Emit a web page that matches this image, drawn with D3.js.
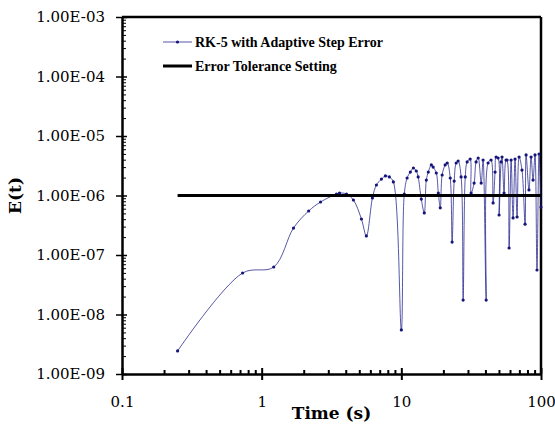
<!DOCTYPE html>
<html>
<head>
<meta charset="utf-8">
<script src="https://cdn.jsdelivr.net/npm/d3@7"></script>
<style>
    body { margin: 0; background: #fff; }
    svg { display: block; }
</style>
</head>
<body>
<svg id="chart" width="555" height="424"></svg>
<script>
/**
 * Data.
 */
const timeValues = [
    0.25, 0.73, 1.22, 1.69, 2.17, 2.64, 3.43, 3.61, 4.05, 4.54,
    5.18, 5.62, 6.21, 6.63, 7.20, 7.69, 8.21, 8.77, 10.0, 10.5,
    11.0, 11.6, 12.2, 12.8, 13.2, 13.9, 14.6, 15.1, 15.6, 16.4,
    16.9, 17.8, 18.4, 19.0, 19.6, 20.6, 21.3, 22.4, 23.1, 23.9,
    24.7, 25.5, 26.8, 27.7, 28.7, 29.6, 31.1, 31.6, 33.2, 34.3,
    35.5, 37.3, 38.5, 40.5, 41.8, 43.9, 45.4, 46.9, 47.7, 49.3,
    50.1, 51.8, 52.6, 54.4, 56.2, 57.1, 59.1, 61.1, 63.1, 65.2,
    67.4, 69.7, 73.1, 76.9, 78.2, 82.0, 84.9, 87.7, 90.6, 93.6,
    96.8, 100
];
const errorValues = [
    2.44e-9, 4.98e-8, 6.28e-8, 2.84e-7, 5.49e-7, 7.78e-7, 1.06e-6, 1.10e-6, 1.06e-6, 8.4e-7,
    4.03e-7, 2.09e-7, 9.1e-7, 1.50e-6, 1.89e-6, 2.13e-6, 2.05e-6, 1.69e-6, 5.5e-9, 1.06e-6,
    1.97e-6, 2.48e-6, 2.90e-6, 2.58e-6, 2.05e-6, 8.7e-7, 5.1e-7, 1.82e-6, 2.48e-6, 3.26e-6,
    3.01e-6, 2.39e-6, 1.10e-6, 6.2e-7, 2.21e-6, 3.26e-6, 3.52e-6, 1.97e-6, 1.65e-7, 1.75e-6,
    3.52e-6, 3.80e-6, 2.05e-6, 1.75e-8, 2.05e-6, 3.66e-6, 4.10e-6, 1.10e-6, 1.62e-6, 3.66e-6,
    4.27e-6, 1.62e-6, 3.95e-6, 1.75e-8, 3.52e-6, 3.95e-6, 7.5e-7, 2.48e-6, 4.44e-6, 4.27e-6,
    4.7e-7, 3.66e-6, 4.44e-6, 1.10e-6, 3.95e-6, 3.95e-6, 1.31e-7, 3.95e-6, 4.2e-7, 4.10e-6,
    4.35e-7, 4.44e-6, 2.68e-6, 3.3e-7, 4.80e-6, 1.24e-6, 4.44e-6, 1.82e-6, 4.80e-6, 5.6e-8,
    4.98e-6, 6.4e-7
];
const toleranceTimes = [0.25, 100];
const toleranceValue = 1e-6;

const seriesNames = ['RK-5 with Adaptive Step Error', 'Error Tolerance Setting'];
const xTickValues = [0.1, 1, 10, 100];
const xTickLabels = ['0.1', '1', '10', '100'];
const yTickValues = [1e-9, 1e-8, 1e-7, 1e-6, 1e-5, 1e-4, 1e-3];
const yTickLabels = ['1.00E-09', '1.00E-08', '1.00E-07', '1.00E-06', '1.00E-05', '1.00E-04', '1.00E-03'];

/**
 * Visual configs.
 */
const plot = { left: 122, right: 541, top: 17, bottom: 374 },
    seriesColor = '#1f1f8a',
    markerColor = '#14147a',
    tickFont = '"DejaVu Serif", serif',
    titleFont = '"DejaVu Serif", serif',
    legendFont = '"Liberation Serif", "Times New Roman", serif';

const svg = d3.select('#chart');

const xScale = d3.scaleLog().domain([0.1, 100]).range([plot.left, plot.right]),
    yScale = d3.scaleLog().domain([1e-9, 1e-3]).range([plot.bottom, plot.top]);

// Minor tick positions (2..9 within each decade)
function minorTicks(domain) {
    const out = [];
    for (let e = Math.round(Math.log10(domain[0])); e < Math.round(Math.log10(domain[1])); e++) {
        for (let m = 2; m <= 9; m++) out.push(m * Math.pow(10, e));
    }
    return out;
}

/**
 * Axes.
 */
function drawAxes() {
    const g = svg.append('g').attr('class', 'axes');

    // Y minor ticks, inside
    g.append('g')
        .attr('transform', 'translate(' + plot.left + ',0)')
        .call(d3.axisRight(yScale).tickValues(minorTicks(yScale.domain())).tickFormat('').tickSize(4).tickSizeOuter(0))
        .call(s => s.select('.domain').remove())
        .call(s => s.selectAll('line').attr('stroke', '#000').attr('stroke-width', 1));

    // Y major ticks, inside part
    g.append('g')
        .attr('transform', 'translate(' + plot.left + ',0)')
        .call(d3.axisRight(yScale).tickValues(yTickValues).tickFormat('').tickSize(5).tickSizeOuter(0))
        .call(s => s.select('.domain').remove())
        .call(s => s.selectAll('line').attr('stroke', '#000').attr('stroke-width', 1.5));

    // Y major ticks with labels
    g.append('g')
        .attr('transform', 'translate(' + plot.left + ',0)')
        .call(d3.axisLeft(yScale).tickValues(yTickValues)
            .tickFormat((d, i) => yTickLabels[i]).tickSize(6).tickPadding(11).tickSizeOuter(0))
        .call(s => s.select('.domain').attr('stroke', '#000').attr('stroke-width', 2.5))
        .call(s => s.selectAll('line').attr('stroke', '#000').attr('stroke-width', 1.5))
        .call(s => s.selectAll('text')
            .attr('fill', '#000')
            .style('font-family', tickFont)
            .style('font-size', '15px'));

    // X minor ticks, inside
    g.append('g')
        .attr('transform', 'translate(0,' + plot.bottom + ')')
        .call(d3.axisTop(xScale).tickValues(minorTicks(xScale.domain())).tickFormat('').tickSize(4).tickSizeOuter(0))
        .call(s => s.select('.domain').remove())
        .call(s => s.selectAll('line').attr('stroke', '#000').attr('stroke-width', 2));

    // X major ticks, inside part
    g.append('g')
        .attr('transform', 'translate(0,' + plot.bottom + ')')
        .call(d3.axisTop(xScale).tickValues(xTickValues).tickFormat('').tickSize(6).tickSizeOuter(0))
        .call(s => s.select('.domain').remove())
        .call(s => s.selectAll('line').attr('stroke', '#000').attr('stroke-width', 2));

    // X major ticks with labels
    g.append('g')
        .attr('transform', 'translate(0,' + plot.bottom + ')')
        .call(d3.axisBottom(xScale).tickValues(xTickValues)
            .tickFormat((d, i) => xTickLabels[i]).tickSize(6).tickSizeOuter(0))
        .call(s => s.select('.domain').attr('stroke', '#000').attr('stroke-width', 2.5))
        .call(s => s.selectAll('line').attr('stroke', '#000').attr('stroke-width', 2))
        .call(s => s.selectAll('text')
            .attr('fill', '#000')
            .attr('y', 33)
            .attr('dy', 0)
            .style('font-family', tickFont)
            .style('font-size', '15px'));

    // Top and right border of the plot area
    g.append('line')
        .attr('x1', plot.left).attr('x2', plot.right)
        .attr('y1', yScale(1e-3)).attr('y2', yScale(1e-3))
        .attr('stroke', '#000').attr('stroke-width', 2.5);
    g.append('line')
        .attr('x1', xScale(100)).attr('x2', xScale(100))
        .attr('y1', plot.top).attr('y2', plot.bottom)
        .attr('stroke', '#000').attr('stroke-width', 2.5);

    // Axis titles
    svg.append('text')
        .attr('x', (plot.left + plot.right) / 2)
        .attr('y', 419)
        .attr('text-anchor', 'middle')
        .style('font-family', titleFont)
        .style('font-size', '17px')
        .style('font-weight', 'bold')
        .text('Time (s)');

    svg.append('text')
        .attr('transform', 'translate(21,' + (plot.top + plot.bottom) / 2 + ') rotate(-90)')
        .attr('text-anchor', 'middle')
        .style('font-family', titleFont)
        .style('font-size', '17px')
        .style('font-weight', 'bold')
        .text('E(t)');
}

/**
 * Series.
 */
function drawSeries() {
    const points = timeValues.map((t, i) => ({ t: t, e: errorValues[i] }));

    const line = d3.line()
        .x(d => xScale(d.t))
        .y(d => yScale(d.e))
        .curve(d3.curveCatmullRom.alpha(0.5));

    const g = svg.append('g').attr('class', 'series');

    g.append('path')
        .datum(points)
        .attr('d', line)
        .attr('fill', 'none')
        .attr('stroke', seriesColor)
        .attr('stroke-opacity', 0.75)
        .attr('stroke-width', 1);

    g.selectAll('circle')
        .data(points)
        .enter().append('circle')
        .attr('cx', d => xScale(d.t))
        .attr('cy', d => yScale(d.e))
        .attr('r', 1.6)
        .attr('fill', markerColor);

    // Tolerance line drawn on top
    svg.append('line')
        .attr('x1', xScale(toleranceTimes[0]))
        .attr('x2', xScale(toleranceTimes[1]))
        .attr('y1', yScale(toleranceValue))
        .attr('y2', yScale(toleranceValue))
        .attr('stroke', '#000')
        .attr('stroke-width', 3);
}

/**
 * Legend.
 */
function drawLegend() {
    const lx = 163, lw = 29, rows = [42, 66];
    const g = svg.append('g').attr('class', 'legend');

    g.append('line')
        .attr('x1', lx).attr('x2', lx + lw)
        .attr('y1', rows[0]).attr('y2', rows[0])
        .attr('stroke', seriesColor).attr('stroke-opacity', 0.75).attr('stroke-width', 1);
    g.append('circle')
        .attr('cx', lx + lw / 2).attr('cy', rows[0]).attr('r', 1.6)
        .attr('fill', markerColor);

    g.append('line')
        .attr('x1', lx).attr('x2', lx + lw)
        .attr('y1', rows[1]).attr('y2', rows[1])
        .attr('stroke', '#000').attr('stroke-width', 3);

    g.selectAll('text')
        .data(seriesNames)
        .enter().append('text')
        .attr('x', lx + lw + 3)
        .attr('y', (d, i) => rows[i] + 5)
        .style('font-family', legendFont)
        .style('font-size', '14px')
        .style('font-weight', 'bold')
        .text(d => d);
}

drawAxes();
drawSeries();
drawLegend();
</script>
</body>
</html>
